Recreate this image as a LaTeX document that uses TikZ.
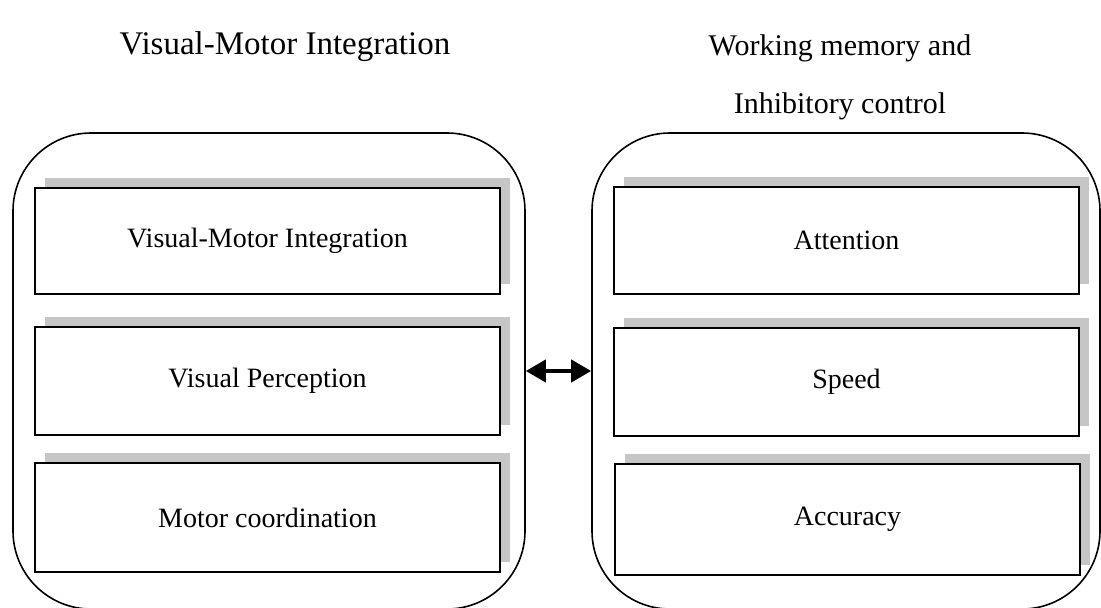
\documentclass[tikz,border=0pt]{standalone}
\usepackage{fontspec}
\setmainfont{Liberation Serif}
\usepackage{tikz}
\usetikzlibrary{arrows.meta, shadows, positioning}
\colorlet{colorShadow}{gray!45}

\begin{document}
\begin{tikzpicture}[x=1pt, y=-1pt, thick,
  frame/.style={draw, line width=1.6pt, rounded corners=78pt, minimum height=476pt},
  skill/.style={draw, line width=2pt, fill=white, minimum width=465pt,
    font=\fontsize{28}{34}\selectfont,
    drop shadow={shadow xshift=10pt, shadow yshift=10pt, fill=colorShadow, opacity=1}},
  heading/.style={align=center, font=\fontsize{30}{58}\selectfont}]
\useasboundingbox (0,0) rectangle (1101,608);
\node[frame, minimum width=512pt] (vmi) at (269,371) {};
\node[frame, minimum width=508pt] (wmic) at (846,371) {};
\node[heading, font=\fontsize{33}{40}\selectfont] (vmiTitle) at (285,47) {Visual-Motor Integration};
\node[heading] (wmicTitle) at (840,77) {Working memory and\\Inhibitory control};
\node[skill, minimum height=106pt] (integration) at (267.5,241) {Visual-Motor Integration};
\node[skill, minimum height=108pt] (perception) at (267.5,381) {Visual Perception};
\node[skill, minimum height=109pt] (motor) at (267.5,517.5) {Motor coordination};
\node[skill, minimum height=107pt] (attention) at (846.5,240.5) {Attention};
\node[skill, minimum height=108pt] (speed) at (846.5,382) {Speed};
\node[skill, minimum height=111pt] (accuracy) at (847.5,519.5) {Accuracy};
\draw [{Triangle[length=20pt, width=22pt]}-{Triangle[length=20pt, width=22pt]}, line width=4pt] (vmi) -- (wmic);
\end{tikzpicture}
\end{document}
